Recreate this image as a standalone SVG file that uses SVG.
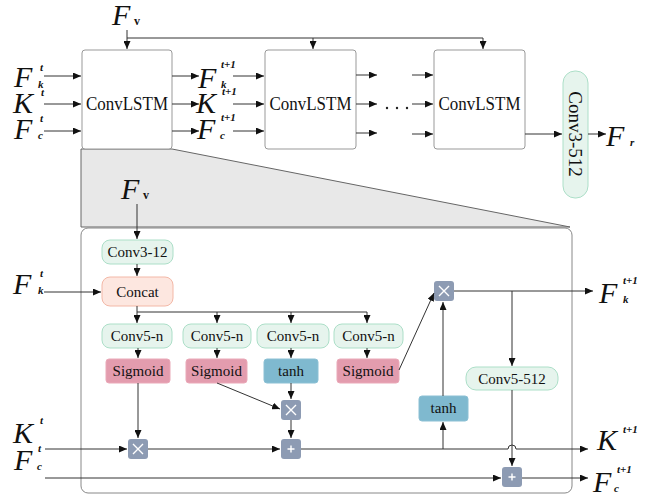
<svg xmlns="http://www.w3.org/2000/svg" width="662" height="499" viewBox="0 0 662 499">
<defs>
<marker id="ah" markerUnits="userSpaceOnUse" markerWidth="9" markerHeight="7" refX="8" refY="3.5" orient="auto">
<path d="M0,0 L8,3.5 L0,7 z" fill="#111"/>
</marker>
<style>
.ln{fill:none;stroke:#333;stroke-width:1}
.ar{fill:none;stroke:#333;stroke-width:1;marker-end:url(#ah)}
.box{fill:#fff;stroke:#999;stroke-width:1}
.g{fill:#e6f4ed;stroke:#acdfc8;stroke-width:1}
.cc{fill:#fde7e0;stroke:#f3b8a7;stroke-width:1}
.sg{fill:#e39cae;stroke:#eaa9b8;stroke-width:1}
.th{fill:#7fb9cf;stroke:#8cc0d4;stroke-width:1}
.op{fill:#8d9bb3}
.sym{stroke:#fff;stroke-width:1.4;fill:none}
.m{font-family:"Liberation Serif","DejaVu Serif",serif;font-style:italic;font-size:30px;fill:#111}
.s{font-family:"Liberation Serif","DejaVu Serif",serif;font-style:italic;font-weight:bold;font-size:11px;fill:#111}
.sv{font-family:"Liberation Serif","DejaVu Serif",serif;font-weight:bold;font-size:12px;fill:#111}
.t{font-family:"Liberation Serif","DejaVu Serif",serif;font-size:15px;fill:#111;text-anchor:middle}
.big{font-family:"Liberation Serif","DejaVu Serif",serif;font-size:19px;fill:#111;text-anchor:middle}
</style>
</defs>

<!-- zoom trapezoid and inner frame -->
<g id="zoom">
<polygon points="81,149 172,149 570,227 81,227" fill="#e8e8e8" stroke="#666" stroke-width="1"/>
<rect x="81" y="228" width="491" height="265" rx="7" fill="#fff" stroke="#888" stroke-width="1"/>
</g>

<!-- top row nodes -->
<g id="lstm1"><rect class="box" x="82" y="50" width="90" height="99" rx="3"/><text class="big" x="127" y="110" textLength="82" lengthAdjust="spacingAndGlyphs">ConvLSTM</text></g>
<g id="lstm2"><rect class="box" x="265" y="50" width="91" height="99" rx="3"/><text class="big" x="310.5" y="110" textLength="82" lengthAdjust="spacingAndGlyphs">ConvLSTM</text></g>
<g id="lstm3"><rect class="box" x="434" y="50" width="91" height="99" rx="3"/><text class="big" x="479.5" y="110" textLength="82" lengthAdjust="spacingAndGlyphs">ConvLSTM</text></g>
<g id="conv3_512"><rect class="g" x="563" y="71" width="25" height="127" rx="12"/><text class="big" transform="translate(575.5,134) rotate(90)" x="0" y="6.5">Conv3-512</text></g>
<g id="dots"><circle cx="387" cy="108" r="1.2" fill="#222"/><circle cx="397" cy="108" r="1.2" fill="#222"/><circle cx="407" cy="108" r="1.2" fill="#222"/></g>

<!-- inner nodes -->
<g id="conv3_12"><rect class="g" x="102" y="240" width="71" height="24" rx="8"/><text class="t" x="137.5" y="257">Conv3-12</text></g>
<g id="concat"><rect class="cc" x="102" y="277" width="71" height="29" rx="8"/><text class="t" x="137.5" y="297">Concat</text></g>
<g id="conv5n_1"><rect class="g" x="102" y="324" width="70" height="24" rx="8"/><text class="t" x="137" y="341">Conv5-n</text></g>
<g id="conv5n_2"><rect class="g" x="183" y="324" width="68" height="24" rx="8"/><text class="t" x="217" y="341">Conv5-n</text></g>
<g id="conv5n_3"><rect class="g" x="257" y="324" width="72" height="24" rx="8"/><text class="t" x="293" y="341">Conv5-n</text></g>
<g id="conv5n_4"><rect class="g" x="334" y="324" width="69" height="24" rx="8"/><text class="t" x="368.5" y="341">Conv5-n</text></g>
<g id="sig1"><rect class="sg" x="106" y="359" width="64" height="24" rx="3"/><text class="t" x="138" y="376">Sigmoid</text></g>
<g id="sig2"><rect class="sg" x="186" y="359" width="61" height="24" rx="3"/><text class="t" x="216.5" y="376">Sigmoid</text></g>
<g id="tanh1"><rect class="th" x="264" y="359" width="54" height="24" rx="3"/><text class="t" x="291" y="376">tanh</text></g>
<g id="sig3"><rect class="sg" x="337" y="359" width="62" height="24" rx="3"/><text class="t" x="368" y="376">Sigmoid</text></g>
<g id="tanh2"><rect class="th" x="419" y="396" width="49" height="25" rx="3"/><text class="t" x="443.5" y="413">tanh</text></g>
<g id="conv5_512"><rect class="g" x="466" y="367" width="92" height="23" rx="10"/><text class="t" x="512" y="384">Conv5-512</text></g>
<g id="mul1"><rect class="op" x="128" y="439" width="20" height="20" rx="3"/><path class="sym" d="M133,444 L143,454 M143,444 L133,454"/></g>
<g id="mul2"><rect class="op" x="281" y="400" width="20" height="20" rx="3"/><path class="sym" d="M286,405 L296,415 M296,405 L286,415"/></g>
<g id="add1"><rect class="op" x="281" y="439" width="20" height="20" rx="3"/><path class="sym" d="M287.5,449 H294.5 M291,445.5 V452.5"/></g>
<g id="mul3"><rect class="op" x="434" y="281" width="20" height="20" rx="3"/><path class="sym" d="M439,286 L449,296 M449,286 L439,296"/></g>
<g id="add2"><rect class="op" x="502" y="467" width="20" height="20" rx="3"/><path class="sym" d="M508.5,477 H515.5 M512,473.5 V480.5"/></g>

<!-- connectors -->
<g id="connectors">
<path class="ar" d="M127,30 V49"/>
<path class="ln" d="M127,38 H483"/>
<path class="ar" d="M313,38 V49"/>
<path class="ar" d="M483,38 V49"/>
<path class="ar" d="M44,76 H81"/>
<path class="ar" d="M44,104 H81"/>
<path class="ar" d="M44,131 H81"/>
<path class="ar" d="M172,76 H199"/>
<path class="ar" d="M172,104 H199"/>
<path class="ar" d="M172,131 H199"/>
<path class="ar" d="M233,76 H264"/>
<path class="ar" d="M233,104 H264"/>
<path class="ar" d="M233,131 H264"/>
<path class="ar" d="M356,75 H377"/>
<path class="ar" d="M356,104 H377"/>
<path class="ar" d="M356,133 H377"/>
<path class="ar" d="M412,75 H433"/>
<path class="ar" d="M412,104 H433"/>
<path class="ar" d="M412,134 H433"/>
<path class="ar" d="M525,134 H562"/>
<path class="ar" d="M588,134 H606"/>

<path class="ar" d="M137,204 V239"/>
<path class="ar" d="M137,264 V276"/>
<path class="ar" d="M44,292 H101"/>
<path class="ar" d="M137,306 V323"/>
<path class="ln" d="M137,312 H367"/>
<path class="ar" d="M217,312 V323"/>
<path class="ar" d="M291,312 V323"/>
<path class="ar" d="M367,312 V323"/>
<path class="ar" d="M138,348 V358"/>
<path class="ar" d="M217,348 V358"/>
<path class="ar" d="M291,348 V358"/>
<path class="ar" d="M367,348 V358"/>
<path class="ar" d="M138,383 V438"/>
<path class="ar" d="M217,383 L280,409"/>
<path class="ar" d="M291,383 V399"/>
<path class="ar" d="M291,420 V438"/>
<path class="ar" d="M45,449 H127"/>
<path class="ar" d="M148,449 H280"/>
<path class="ar" d="M301,449 H508 A4,4 0 0 1 516,449 H588"/>
<path class="ar" d="M443,449 V422"/>
<path class="ar" d="M443,396 V302"/>
<path class="ar" d="M399,370 L434,293"/>
<path class="ar" d="M454,291 H593"/>
<path class="ar" d="M512,291 V366"/>
<path class="ar" d="M512,390 V466"/>
<path class="ar" d="M45,478 H501"/>
<path class="ar" d="M522,478 H588"/>
</g>

<!-- labels -->
<g id="labels">
<text class="m" x="112" y="25">F</text><text class="sv" x="134" y="25">v</text>
<text class="m" x="14" y="87">F</text><text class="s" x="40" y="71">t</text><text class="s" x="38" y="88">k</text>
<text class="m" x="13" y="113">K</text><text class="s" x="41" y="96">t</text>
<text class="m" x="14" y="139">F</text><text class="s" x="40" y="122">t</text><text class="s" x="38" y="139">c</text>
<text class="m" x="198" y="88">F</text><text class="s" x="221" y="68">t+1</text><text class="s" x="221" y="88">k</text>
<text class="m" x="196" y="113">K</text><text class="s" x="222" y="95">t+1</text>
<text class="m" x="197" y="139">F</text><text class="s" x="221" y="121">t+1</text><text class="s" x="220" y="139">c</text>
<text class="m" x="606" y="146">F</text><text class="s" x="630" y="146">r</text>

<text class="m" x="121" y="199">F</text><text class="sv" x="143" y="199">v</text>
<text class="m" x="13" y="294">F</text><text class="s" x="40" y="277">t</text><text class="s" x="38" y="294">k</text>
<text class="m" x="599" y="303">F</text><text class="s" x="623" y="284">t+1</text><text class="s" x="623" y="303">k</text>
<text class="m" x="13" y="443">K</text><text class="s" x="40" y="424">t</text>
<text class="m" x="14" y="470">F</text><text class="s" x="38" y="452">t</text><text class="s" x="37" y="470">c</text>
<text class="m" x="597" y="450">K</text><text class="s" x="623" y="433">t+1</text>
<text class="m" x="593" y="492">F</text><text class="s" x="617" y="473">t+1</text><text class="s" x="614" y="492">c</text>
</g>
</svg>
